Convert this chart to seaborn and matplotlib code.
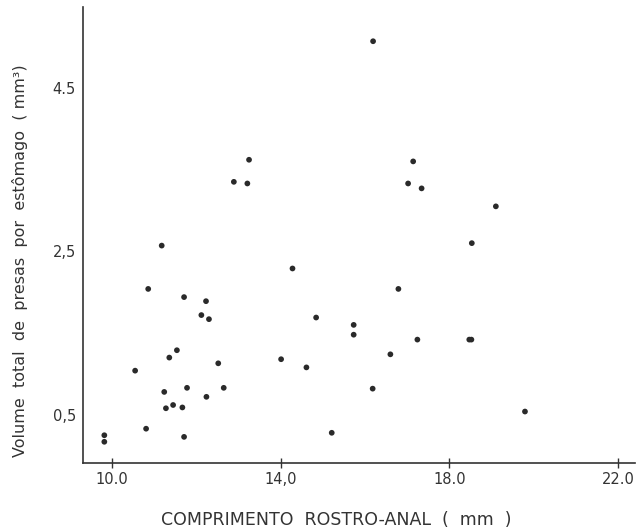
import matplotlib
matplotlib.use("Agg")
import matplotlib.pyplot as plt
import numpy as np
import pandas as pd
import seaborn as sns

# comprimento rostro-anal (mm)
comprimento = [9.82, 9.82, 10.55, 10.81, 10.86, 11.18, 11.24, 11.28, 11.36, 11.45,
               11.54, 11.67, 11.71, 11.71, 11.78, 12.12, 12.23, 12.24, 12.30, 12.52,
               12.65, 12.89, 13.25, 13.21, 14.01, 14.28, 14.61, 14.84, 15.21, 15.73,
               15.73, 16.18, 16.19, 16.60, 16.79, 17.02, 17.14, 17.24, 17.34, 18.47,
               18.52, 18.53, 19.10, 19.79]
# volume total de presas por estomago (mm3)
volume = [0.25, 0.17, 1.04, 0.33, 2.04, 2.57, 0.78, 0.58, 1.20, 0.62,
          1.29, 0.59, 1.94, 0.23, 0.83, 1.72, 1.89, 0.72, 1.67, 1.13,
          0.83, 3.35, 3.62, 3.33, 1.18, 2.29, 1.08, 1.69, 0.28, 1.60,
          1.48, 0.82, 5.07, 1.24, 2.04, 3.33, 3.60, 1.42, 3.27, 1.42,
          1.42, 2.60, 3.05, 0.54]

xticks = [10.0, 14.0, 18.0, 22.0]
xticklabels = ["10.0", "14,0", "18.0", "22.0"]
yticks = [0.5, 2.5, 4.5]
yticklabels = ["0,5", "2,5", "4.5"]

df = pd.DataFrame({"comprimento": comprimento, "volume": volume})

sns.set_style("ticks")
plt.rcParams['font.family'] = ['DejaVu Sans']
ink = "#333333"

fig = plt.figure(figsize=(6.37, 5.31), dpi=100)
ax = fig.add_axes([0.130, 0.128, 0.867, 0.859])

sns.scatterplot(data=df, x="comprimento", y="volume", ax=ax,
                color="#2a2a2a", s=17, edgecolor="none", linewidth=0)

ax.set_xlim(9.31, 22.4)
ax.set_ylim(-0.09, 5.49)
ax.set_xticks(xticks)
ax.set_xticklabels(xticklabels)
ax.set_yticks(yticks)
ax.set_yticklabels(yticklabels)

for side in ["top", "right"]:
    ax.spines[side].set_visible(False)
for side in ["left", "bottom"]:
    ax.spines[side].set_color(ink)
    ax.spines[side].set_linewidth(1.2)

ax.tick_params(axis="x", direction="inout", length=7, width=1, colors=ink,
               labelsize=10.5, pad=3)
ax.tick_params(axis="y", length=0, colors=ink, labelsize=10.5, pad=5)

ax.set_xlabel("COMPRIMENTO  ROSTRO-ANAL  (  mm  )", fontsize=12.5, color=ink)
ax.set_ylabel("Volume  total  de  presas  por  estômago  ( mm³)", fontsize=11.5,
              color=ink)
ax.xaxis.set_label_coords(0.458, -0.125)
ax.yaxis.set_label_coords(-0.114, 0.443)
ax.xaxis.label.set_va("center")
ax.yaxis.label.set_va("center")

fig.savefig("out.png", dpi=100)
